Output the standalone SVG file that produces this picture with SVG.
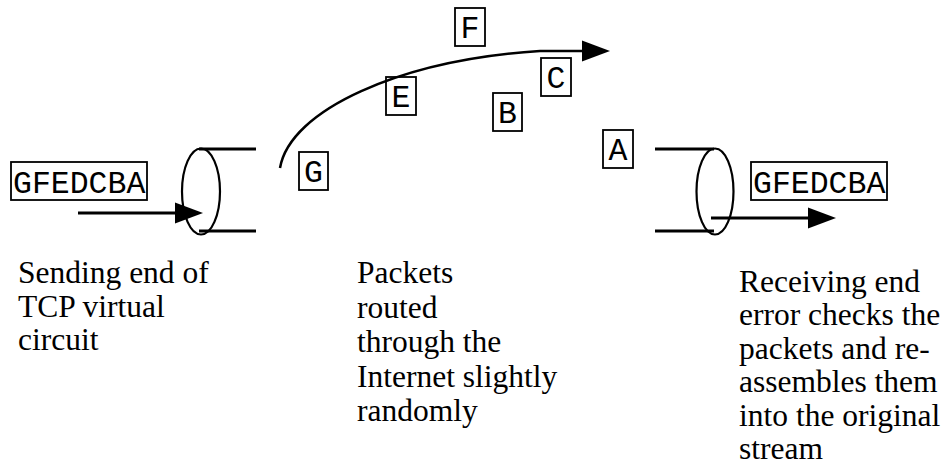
<svg xmlns="http://www.w3.org/2000/svg" width="943" height="468" viewBox="0 0 943 468">
<style>
.bg{fill:#fff}
.box{fill:#fff;stroke:#000;stroke-width:1.8}
.mono{font-family:"Liberation Mono","Courier New",monospace;font-size:31.5px;fill:#000}
.cap{font-family:"Liberation Serif","Times New Roman",serif;font-size:31.5px;fill:#000}
.tube{fill:none;stroke:#000;stroke-width:3}
.rim{fill:none;stroke:#000;stroke-width:2.2}
.conn{fill:none;stroke:#000;stroke-width:3}
.curve{fill:none;stroke:#000;stroke-width:2.5}
</style>
<defs>
<marker id="ah" markerUnits="userSpaceOnUse" markerWidth="28" markerHeight="21" refX="0" refY="10.5" orient="auto" overflow="visible">
<path d="M0,0 L28,10.5 L0,21 z" fill="#000"/>
</marker>
</defs>
<rect class="bg" x="0" y="0" width="943" height="468"/>

<g id="sender-stream">
<rect class="box" x="11" y="162" width="136" height="38"/>
<text class="mono" x="13" y="193">GFEDCBA</text>
</g>

<g id="sender-tube">
<line class="tube" x1="199" y1="149" x2="256" y2="149"/>
<line class="tube" x1="199" y1="231" x2="256" y2="231"/>
<ellipse class="rim" cx="201" cy="191.5" rx="19" ry="43"/>
</g>

<g id="receiver-tube">
<line class="tube" x1="655" y1="149" x2="714" y2="149"/>
<line class="tube" x1="655" y1="231" x2="714" y2="231"/>
<ellipse class="rim" cx="715" cy="191.5" rx="18.5" ry="43"/>
</g>

<g id="receiver-stream">
<rect class="box" x="751" y="162" width="136" height="38"/>
<text class="mono" x="753" y="193">GFEDCBA</text>
</g>

<g id="packet-F"><rect class="box" x="455" y="8" width="30" height="38"/><text class="mono" x="470" y="38" text-anchor="middle">F</text></g>
<g id="packet-E"><rect class="box" x="386" y="77" width="30" height="38"/><text class="mono" x="401" y="107" text-anchor="middle">E</text></g>
<g id="packet-B"><rect class="box" x="493" y="93" width="29" height="38"/><text class="mono" x="507.5" y="123" text-anchor="middle">B</text></g>
<g id="packet-C"><rect class="box" x="541" y="58" width="30" height="38"/><text class="mono" x="556" y="88" text-anchor="middle">C</text></g>
<g id="packet-G"><rect class="box" x="299" y="152" width="29" height="38"/><text class="mono" x="313.5" y="182" text-anchor="middle">G</text></g>
<g id="packet-A"><rect class="box" x="603" y="130" width="30" height="38"/><text class="mono" x="618" y="160" text-anchor="middle">A</text></g>

<g id="connectors">
<line class="conn" x1="78" y1="213" x2="175" y2="213" marker-end="url(#ah)"/>
<line class="conn" x1="711" y1="218" x2="808" y2="218" marker-end="url(#ah)"/>
<path class="curve" d="M280,168 C290,110 400,60 540,51 L582,51" marker-end="url(#ah)"/>
</g>

<g id="caption-sender">
<text class="cap" x="18" y="283">Sending end of</text>
<text class="cap" x="18" y="316.5">TCP virtual</text>
<text class="cap" x="18" y="350">circuit</text>
</g>
<g id="caption-internet">
<text class="cap" x="357" y="283">Packets</text>
<text class="cap" x="357" y="317.5">routed</text>
<text class="cap" x="357" y="352">through the</text>
<text class="cap" x="357" y="386.5">Internet slightly</text>
<text class="cap" x="357" y="421">randomly</text>
</g>
<g id="caption-receiver">
<text class="cap" x="739" y="291.5">Receiving end</text>
<text class="cap" x="739" y="325">error checks the</text>
<text class="cap" x="739" y="358.5">packets and re-</text>
<text class="cap" x="739" y="392">assembles them</text>
<text class="cap" x="739" y="425.5">into the original</text>
<text class="cap" x="739" y="459">stream</text>
</g>
</svg>
